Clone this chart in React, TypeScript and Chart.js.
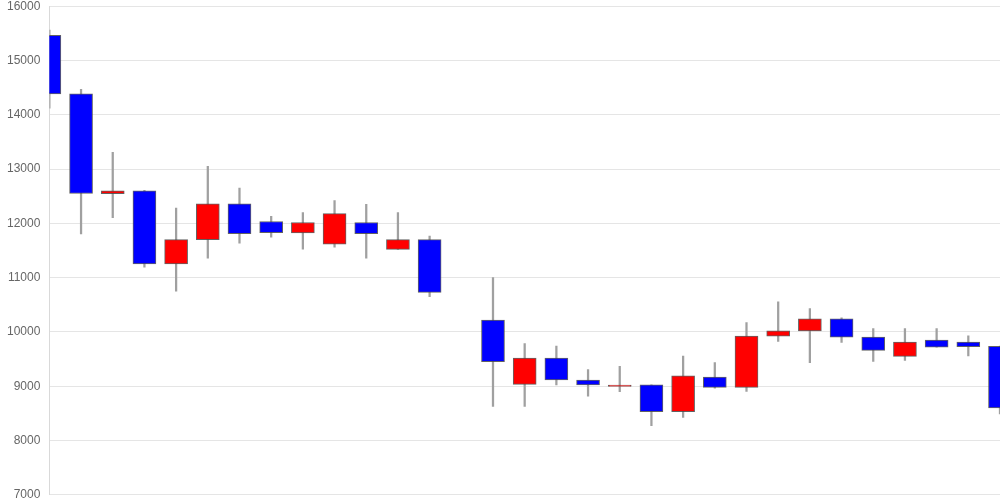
import React, { useEffect, useRef } from "react";
import { Chart, registerables } from "chart.js";

Chart.register(...registerables);

const labels: string[] = [
  "1", "2", "3", "4", "5", "6", "7", "8", "9", "10",
  "11", "12", "13", "14", "15", "16", "17", "18", "19", "20",
  "21", "22", "23", "24", "25", "26", "27", "28", "29", "30", "31",
];

const opens: (number | null)[] = [
  15465, 14385, 12545, 12600, 11255, 11700, 12360, 12035, 11825, 11615,
  12015, 11520, 11700, null, 10220, 9035, 9520, 9115, 8995, 9025,
  8530, 9170, 8980, 9920, 10020, 10240, 9905, 9550, 9850, 9815, 9735,
];
const closes: (number | null)[] = [
  14385, 12550, 12600, 11255, 11700, 12360, 11810, 11830, 12015, 12180,
  11810, 11700, 10730, null, 9450, 9520, 9115, 9025, 9020, 8530,
  9190, 8980, 9925, 10020, 10240, 9905, 9660, 9815, 9720, 9730, 8600,
];
const highs: (number | null)[] = [
  15560, 14470, 13310, 12610, 12280, 13050, 12650, 12130, 12200, 12420,
  12350, 12200, 11765, null, 11000, 9785, 9740, 9305, 9365, 9025,
  9555, 9435, 10170, 10555, 10430, 10260, 10060, 10060, 10060, 9930, 9740,
];
const lows: (number | null)[] = [
  14120, 11805, 12105, 11195, 10750, 11360, 11635, 11745, 11525, 11560,
  11360, 11520, 10650, null, 8630, 8630, 9025, 8815, 8900, 8275,
  8425, 8965, 8905, 9825, 9435, 9805, 9455, 9475, 9720, 9560, 8490,
];

const yTicks = { min: 7000, max: 16000, step: 1000 };

export default function App() {
  const ref = useRef<HTMLCanvasElement | null>(null);

  useEffect(() => {
    if (!ref.current) return;
    const bodies = opens.map((o, i) =>
      o === null || closes[i] === null ? null : [o, closes[i] as number]
    );
    const wicks = lows.map((l, i) =>
      l === null || highs[i] === null ? null : [l, highs[i] as number]
    );
    const colors = opens.map((o, i) =>
      o !== null && (closes[i] as number) >= o ? "#ff0000" : "#0000ff"
    );

    const chart = new Chart(ref.current, {
      type: "bar",
      data: {
        labels,
        datasets: [
          {
            label: "body",
            data: bodies as any,
            backgroundColor: colors,
            borderColor: "rgba(70,70,70,0.85)",
            borderWidth: 1,
            borderSkipped: false,
            barThickness: 23,
            grouped: false,
          } as any,
          {
            label: "wick",
            data: wicks as any,
            backgroundColor: "#a0a0a0",
            borderWidth: 0,
            barThickness: 1.6,
            grouped: false,
          } as any,
        ],
      },
      options: {
        animation: false,
        responsive: true,
        maintainAspectRatio: false,
        layout: { autoPadding: false, padding: { left: -2, right: 0, top: 0, bottom: 0 } },
        plugins: {
          legend: { display: false },
          tooltip: { enabled: false },
        },
        scales: {
          x: {
            type: "category",
            display: false,
            offset: false,
            grid: { display: false, offset: false },
          },
          y: {
            min: yTicks.min,
            max: yTicks.max,
            ticks: {
              stepSize: yTicks.step,
              color: "#666",
              padding: 9,
              font: { family: "'Liberation Sans', Arial, sans-serif", size: 12 },
              callback: (v: any) => String(v),
            },
            grid: {
              color: "rgba(0,0,0,0.1)",
              drawTicks: false,
            },
            border: { color: "rgba(0,0,0,0.15)" },
          },
        },
      },
    });
    return () => chart.destroy();
  }, []);

  return (
    <div
      style={{
        position: "fixed",
        left: 0,
        top: -10,
        width: 1000,
        height: 521,
        background: "#fff",
      }}
    >
      <canvas ref={ref} />
    </div>
  );
}
